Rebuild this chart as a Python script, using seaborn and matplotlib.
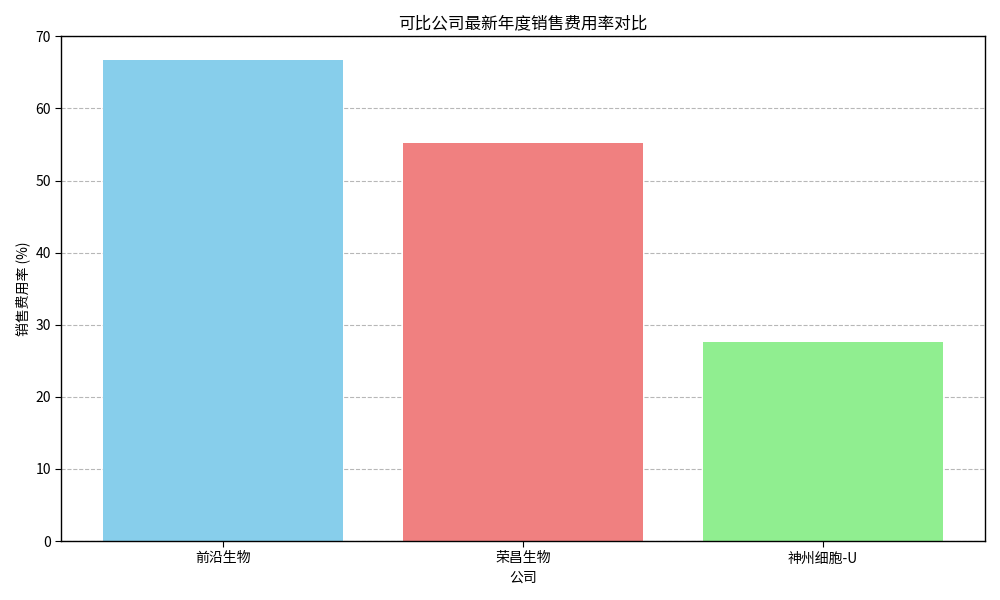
import numpy as np
import pandas as pd
import seaborn as sns
import matplotlib
matplotlib.use('Agg')
import matplotlib.pyplot as plt

companies = ['前沿生物', '荣昌生物', '神州细胞-U']
sales_ratio = [66.7, 55.2, 27.6]
bar_colors = ['skyblue', 'lightcoral', 'lightgreen']

sns.set_style('white')
plt.rcParams['font.family'] = ['Noto Sans CJK SC', 'DejaVu Sans']
plt.rcParams['axes.unicode_minus'] = False
plt.rcParams['text.color'] = 'black'
plt.rcParams['axes.labelcolor'] = 'black'
plt.rcParams['xtick.color'] = 'black'
plt.rcParams['ytick.color'] = 'black'

df = pd.DataFrame({'公司': companies, '销售费用率': sales_ratio})

fig, ax = plt.subplots(figsize=(10, 6), dpi=100)
sns.barplot(data=df, x='公司', y='销售费用率', hue='公司', palette=bar_colors,
            width=0.8, saturation=1, legend=False, linewidth=0, ax=ax)
ax.set_xlim(-0.54, 2.54)
ax.set_ylim(0, 70)
ax.set_title('可比公司最新年度销售费用率对比')
ax.set_xlabel('公司')
ax.set_ylabel('销售费用率 (%)')
ax.yaxis.grid(True, linestyle='--', alpha=0.7, color='#999999')
ax.set_axisbelow(True)
for s in ax.spines.values():
    s.set_color('black')
    s.set_linewidth(1)
ax.tick_params(axis='both', which='both', length=4, color='black', left=True, bottom=True)
plt.tight_layout()
plt.savefig('out.png', dpi=100)
